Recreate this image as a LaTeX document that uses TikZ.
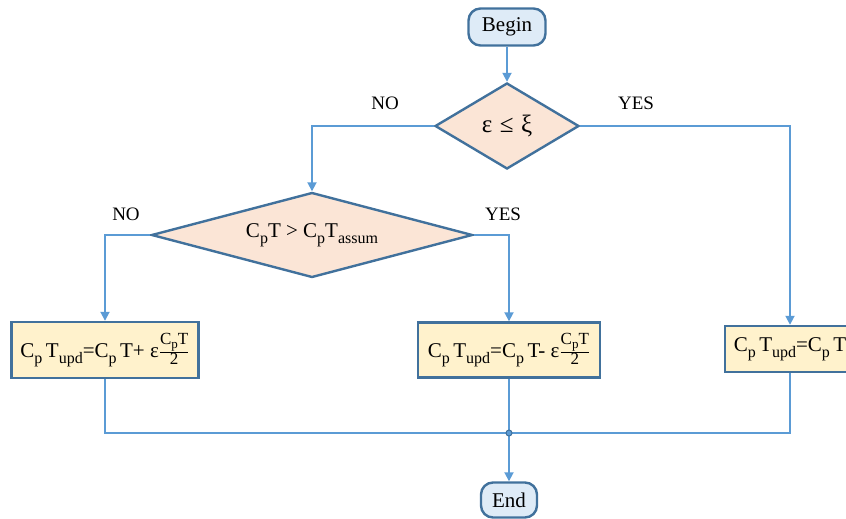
\documentclass[tikz,border=0pt]{standalone}
\usepackage{fontspec}
\setmainfont{Liberation Serif}
\usetikzlibrary{shapes.geometric,arrows.meta}
\definecolor{conn}{HTML}{5B9BD5}
\definecolor{bord}{HTML}{41719C}
\definecolor{peach}{HTML}{FBE5D6}
\definecolor{lyellow}{HTML}{FFF2CC}
\definecolor{lblue}{HTML}{DEEBF7}
\newcommand{\sbs}[1]{\raisebox{-0.3em}{\fontsize{16}{17}\selectfont #1}}
\newcommand{\fsbs}[1]{\raisebox{-0.25em}{\fontsize{13}{14}\selectfont #1}}
\newcommand{\smallfr}[2]{\ensuremath{\frac{\hbox{\fontsize{17}{18}\selectfont #1}}{\hbox{\fontsize{17}{18}\selectfont #2}}}}
\begin{document}
\begin{tikzpicture}[x=1pt,y=-1pt,
  font=\fontsize{21}{24}\selectfont,
  term/.style={draw=bord,line width=2.4pt,fill=lblue,rounded corners=12pt,inner sep=0pt},
  decide/.style={diamond,draw=bord,line width=2.4pt,fill=peach,inner sep=0pt},
  proc/.style={rectangle,draw=bord,line width=2.4pt,fill=lyellow,inner sep=0pt},
  conline/.style={draw=conn,line width=1.8pt},
  arr/.style={conline,-{Triangle[length=9pt,width=9pt]}},
  lab/.style={inner sep=0pt,font=\fontsize{19}{22}\selectfont}]
\useasboundingbox (0,0) rectangle (846,519);
\clip (0,0) rectangle (846,519);
\node[term,minimum width=77pt,minimum height=37pt] (begin) at (507,27) {Begin};
\node[decide,aspect=1.7,minimum width=144pt,minimum height=86pt,font=\fontsize{25}{28}\selectfont] (d1) at (507,126) {ε\hspace{0.3em}≤\hspace{0.3em}ξ};
\node[decide,aspect=3.8,minimum width=321pt,minimum height=85pt] (d2) at (312,235) {C\sbs{p}T > C\sbs{p}T\sbs{assum}};
\node[proc,minimum width=187pt,minimum height=56pt] (b1) at (105,350) {C\sbs{p}\,T\sbs{upd}=C\sbs{p}\,T+ ε\smallfr{C\fsbs{p}T}{2}};
\node[proc,minimum width=182pt,minimum height=55pt] (b2) at (509,350) {C\sbs{p}\,T\sbs{upd}=C\sbs{p}\,T- ε\smallfr{C\fsbs{p}T}{2}};
\node[proc,minimum width=130pt,minimum height=46pt] (b3) at (790,349) {C\sbs{p}\,T\sbs{upd}=C\sbs{p}\,T};
\node[term,minimum width=56pt,minimum height=35pt] (end) at (509,500) {End};
\coordinate (j) at (509,433);
\node[lab] (no1) at (385,103) {NO};
\node[lab] (yes1) at (636,103) {YES};
\node[lab] (no2) at (126,214) {NO};
\node[lab] (yes2) at (503,214) {YES};
\draw[arr] (begin.south) -- (d1.north);
\draw[arr] (d1.west) -| (d2.north);
\draw[arr] (d1.east) -| (b3.north);
\draw[arr] (d2.west) -| (b1.north);
\draw[arr] (d2.east) -| (b2.north);
\draw[conline] (b1.south) |- (j);
\draw[conline] (b3.south) |- (j);
\draw[conline] (b2.south) -- (j);
\draw[arr] (j) -- (end.north);
\node[circle,draw=bord,fill=conn,line width=1pt,minimum size=6pt,inner sep=0pt] (jc) at (j) {};
\end{tikzpicture}
\end{document}
